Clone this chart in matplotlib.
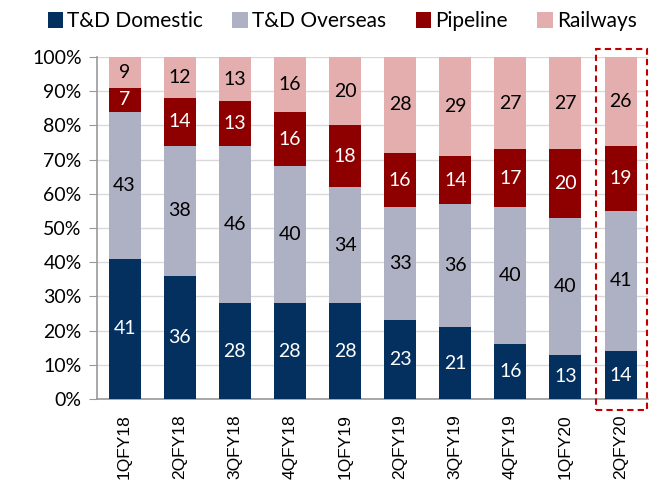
import matplotlib
matplotlib.use("Agg")
import matplotlib.pyplot as plt
from matplotlib.patches import Rectangle
import numpy as np

categories = ["1QFY18", "2QFY18", "3QFY18", "4QFY18", "1QFY19",
              "2QFY19", "3QFY19", "4QFY19", "1QFY20", "2QFY20"]
td_domestic = [41, 36, 28, 28, 28, 23, 21, 16, 13, 14]
td_overseas = [43, 38, 46, 40, 34, 33, 36, 40, 40, 41]
pipeline = [7, 14, 13, 16, 18, 16, 14, 17, 20, 19]
railways = [9, 12, 13, 16, 20, 28, 29, 27, 27, 26]

series = [
    ("T&D Domestic", td_domestic, "#03305f", "white"),
    ("T&D Overseas", td_overseas, "#aeb1c3", "black"),
    ("Pipeline", pipeline, "#8e0000", "white"),
    ("Railways", railways, "#e4aeae", "black"),
]

fig = plt.figure(figsize=(6.58, 4.93), dpi=100)
ax = fig.add_axes([0.1474, 0.1907, 0.8376, 0.6937])

x = np.arange(len(categories))
totals = np.sum([s[1] for s in series], axis=0)
bottom = np.zeros(len(categories))
handles = []
for name, vals, color, tcolor in series:
    frac = np.array(vals) / totals
    bars = ax.bar(x, frac, width=0.58, bottom=bottom, color=color, label=name, zorder=3)
    handles.append(bars)
    for xi, b, f, v in zip(x, bottom, frac, vals):
        ax.text(xi, b + f / 2, str(v), ha="center", va="center", color=tcolor,
                fontsize=14, family="Lato", zorder=4)
    bottom += frac

ax.set_xlim(-0.5, 9.5)
ax.set_ylim(0, 1)
ax.set_yticks(np.arange(0, 1.01, 0.1))
ax.set_yticklabels([f"{int(round(v*100))}%" for v in np.arange(0, 1.01, 0.1)],
                   fontsize=14, family="Lato")
ax.set_xticks(x)
ax.set_xticklabels(categories, rotation=90, fontsize=12.5, family="Liberation Sans")
ax.tick_params(axis="x", length=0, pad=11)
ax.tick_params(axis="y", length=6, color="#999999", direction="out", pad=5)
ax.yaxis.grid(True, color="#d9d9d9", linewidth=1, zorder=0)
for sp in ["top", "right"]:
    ax.spines[sp].set_visible(False)
for sp in ["left", "bottom"]:
    ax.spines[sp].set_color("#999999")
    ax.spines[sp].set_linewidth(1.2)

# dashed highlight box around last bar
rect = Rectangle((8.55, -0.032), 0.93, 1.056, transform=ax.transData, fill=False,
                 edgecolor="#c00000", linestyle=(0, (3, 2)), linewidth=1.5,
                 clip_on=False, zorder=5)
ax.add_patch(rect)

fig.legend(handles=handles, labels=[s[0] for s in series], loc="upper center",
           bbox_to_anchor=(0.52, 1.015), ncol=4, frameon=False, handlelength=0.75,
           handleheight=0.75, handletextpad=0.2, columnspacing=1.4,
           prop={"family": "Lato", "size": 15})

fig.savefig("out.png", dpi=100)
